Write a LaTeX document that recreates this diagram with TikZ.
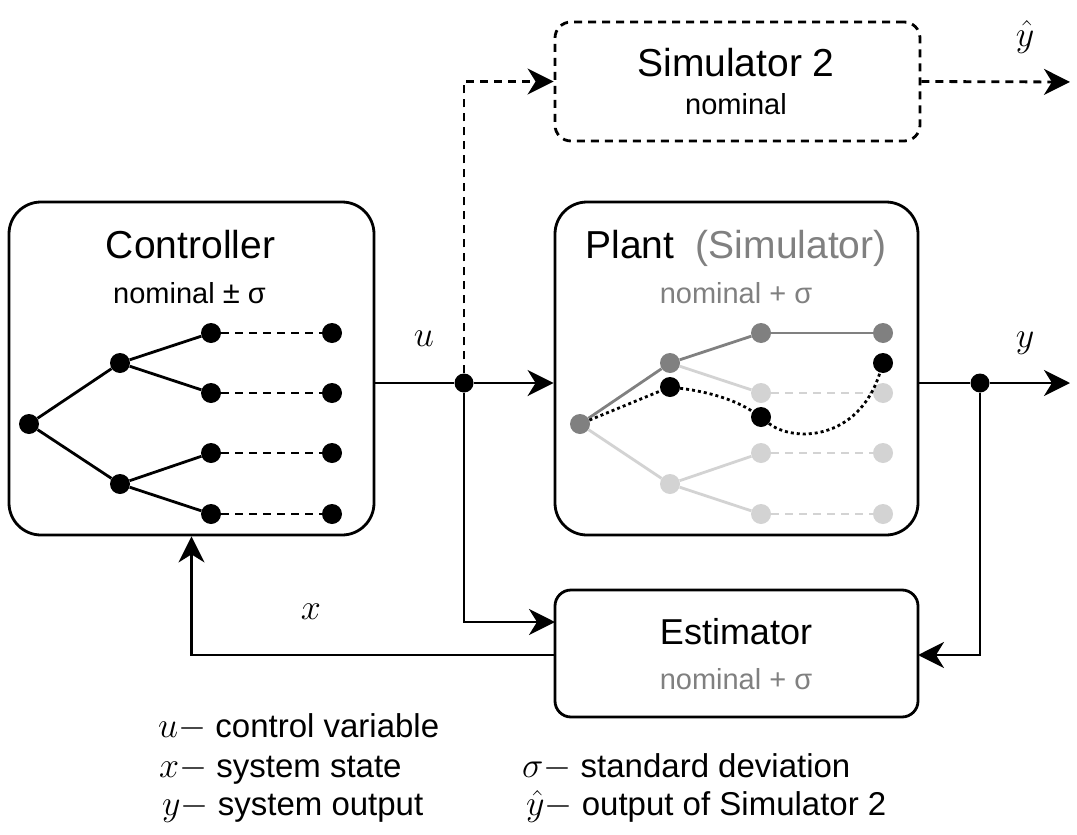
\RequirePackage{fix-cm}
\documentclass[tikz,border=0pt]{standalone}
\usepackage{fontspec}
\setmainfont{Liberation Sans}
\usetikzlibrary{arrows.meta}
\definecolor{dgray}{HTML}{808080}
\definecolor{lgray}{HTML}{D3D3D3}
\tikzset{
 ln/.style={line width=2.8pt},
 arr/.style={ln, -{Stealth[length=26pt,width=26pt,inset=8pt]}},
 dsh/.style={dash pattern=on 8pt off 6pt},
 dotline/.style={ln, dash pattern=on 3pt off 3pt},
 bigbox/.style={draw, ln, rounded corners=32pt, minimum height=333pt, inner sep=0pt},
 smallbox/.style={draw, ln, rounded corners=16pt, inner sep=0pt},
 tdot/.style={circle, fill=black, minimum size=20pt, inner sep=0pt},
 gdot/.style={tdot, fill=dgray},
 ldot/.style={tdot, fill=lgray},
 jdot/.style={circle, fill=black, minimum size=19pt, inner sep=0pt},
 bigtxt/.style={font=\fontsize{39}{44}\selectfont, anchor=base, inner sep=0pt},
 smalltxt/.style={font=\fontsize{29}{32}\selectfont, anchor=base, inner sep=0pt},
 mathlbl/.style={font=\fontsize{36}{40}\selectfont, inner sep=0pt},
 leg/.style={font=\fontsize{33}{36}\selectfont, anchor=base west, inner sep=0pt},
}
\newcommand{\lm}[1]{{\fontsize{36}{40}\selectfont$#1-$}}
\begin{document}
\begin{tikzpicture}[x=1pt,y=-1pt]
\useasboundingbox (0,0) rectangle (1077,835);
% boxes
\node[bigbox, minimum width=365pt] (ctrl) at (191.5,368.5) {};
\node[bigbox, minimum width=363pt] (plant) at (736.5,368.5) {};
\node[smallbox, dashed, dsh, minimum width=365pt, minimum height=119pt] (sim) at (737.5,81.5) {};
\node[smallbox, minimum width=363pt, minimum height=127pt] (est) at (736.5,653.5) {};
% titles
\node[bigtxt] (ctrlt) at (190.5,258) {Controller};
\node[smalltxt] (ctrls) at (189.5,303) {nominal {\fontsize{31}{32}\selectfont ±} σ};
\node[bigtxt] (plantt) at (736,258) {Plant\ \ \textcolor{dgray}{(Simulator)}};
\node[smalltxt, text=dgray] (plants) at (736,303) {nominal + σ};
\node[bigtxt] (simt) at (736,76) {Simulator 2};
\node[smalltxt] (sims) at (736,114) {nominal};
\node[bigtxt, font=\fontsize{36}{40}\selectfont] (estt) at (736,644) {Estimator};
\node[smalltxt, text=dgray] (ests) at (736,689) {nominal + σ};
% controller tree
\node[tdot] (c0) at (29,424) {};
\node[tdot] (c1) at (120,363) {};
\node[tdot] (c2) at (120,484) {};
\node[tdot] (c3) at (211,333) {};
\node[tdot] (c4) at (211,393) {};
\node[tdot] (c5) at (211,453) {};
\node[tdot] (c6) at (211,514) {};
\node[tdot] (c7) at (332,333) {};
\node[tdot] (c8) at (332,393) {};
\node[tdot] (c9) at (332,453) {};
\node[tdot] (c10) at (332,514) {};
\draw[ln] (c0) -- (c1); \draw[ln] (c0) -- (c2);
\draw[ln] (c1) -- (c3); \draw[ln] (c1) -- (c4);
\draw[ln] (c2) -- (c5); \draw[ln] (c2) -- (c6);
\draw[ln, dsh] (c3) -- (c7); \draw[ln, dsh] (c4) -- (c8);
\draw[ln, dsh] (c5) -- (c9); \draw[ln, dsh] (c6) -- (c10);
% plant tree
\node[gdot] (p0) at (580,424) {};
\node[gdot] (p1) at (670,363) {};
\node[ldot] (p2) at (670,484) {};
\node[gdot] (p3) at (761,333) {};
\node[ldot] (p4) at (761,393) {};
\node[ldot] (p5) at (761,453) {};
\node[ldot] (p6) at (761,514) {};
\node[gdot] (p7) at (883,333) {};
\node[ldot] (p8) at (883,393) {};
\node[ldot] (p9) at (883,453) {};
\node[ldot] (p10) at (883,514) {};
\draw[ln, lgray] (p1) -- (p4);
\draw[ln, lgray] (p0) -- (p2);
\draw[ln, lgray] (p2) -- (p5); \draw[ln, lgray] (p2) -- (p6);
\draw[ln, lgray, dsh] (p4) -- (p8);
\draw[ln, lgray, dsh] (p5) -- (p9);
\draw[ln, lgray, dsh] (p6) -- (p10);
\draw[ln, dgray] (p0) -- (p1); \draw[ln, dgray] (p1) -- (p3); \draw[ln, dgray] (p3) -- (p7);
\node[tdot] (b1) at (670,387) {};
\node[tdot] (b2) at (761,417) {};
\node[tdot] (b3) at (883,363) {};
\draw[dotline] (p0) -- (b1);
\draw[dotline] (b1) .. controls (710,392) and (735,400) .. (b2);
\draw[dotline] (b2) .. controls (792,442) and (858,442) .. (b3);
% junctions and connectors
\node[jdot] (ju) at (464,383) {};
\node[jdot] (jy) at (980,383) {};
\coordinate (yend) at (1070,383);
\coordinate (yhend) at (1070,82);
\coordinate (estin) at (555,622);
\coordinate (estl) at (555,655);
\coordinate (estr) at (918,655);
\draw[ln] (ctrl.east |- ju) -- (ju);
\draw[arr] (ju) -- (plant.west |- ju);
\draw[arr, dsh] (ju) |- (sim.west);
\draw[arr, dsh] (sim.east) -- (yhend);
\draw[ln] (plant.east |- jy) -- (jy);
\draw[arr] (jy) -- (yend);
\draw[arr] (jy) |- (estr);
\draw[arr] (ju) |- (estin);
\draw[arr] (estl) -| (ctrl.south);
% labels
\node[mathlbl] (lu) at (424,339) {$u$};
\node[mathlbl] (ly) at (1025,343) {$y$};
\node[mathlbl] (lyh) at (1025,37) {$\hat{y}$};
\node[mathlbl] (lx) at (311,612) {$x$};
% legend
\node[leg] (g1) at (158,737) {\lm{u} control variable};
\node[leg] (g2) at (159,777) {\lm{x} system state};
\node[leg] (g3) at (162,815) {\lm{y} system output};
\node[leg] (g4) at (522,777) {\lm{\sigma} standard deviation};
\node[leg] (g5) at (526,815) {\lm{\hat{y}} output of Simulator 2};
\end{tikzpicture}
\end{document}
